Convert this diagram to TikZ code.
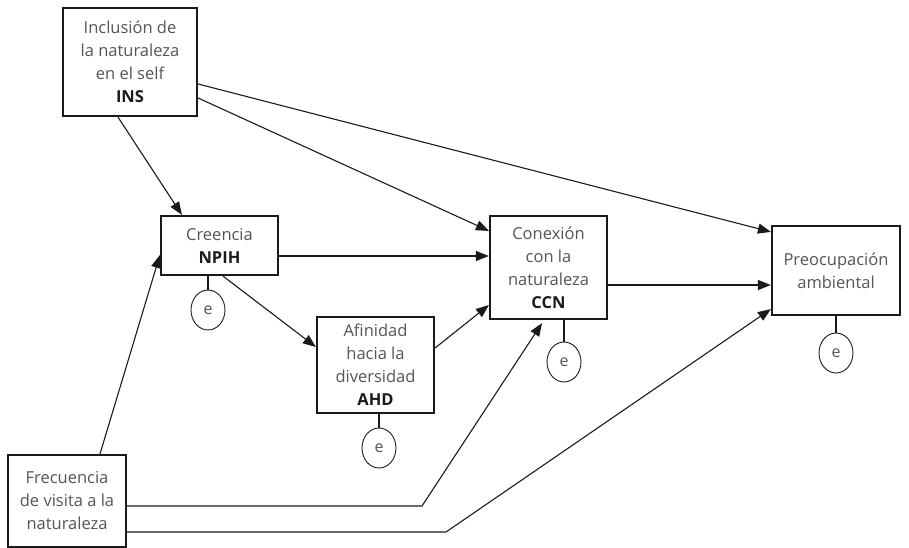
\documentclass[tikz,border=0pt]{standalone}
\usepackage{fontspec}
\setmainfont{Open Sans}
\usetikzlibrary{arrows.meta,calc,shapes.geometric}
\definecolor{txt}{HTML}{555555}
\definecolor{ln}{HTML}{1A1A1A}
\begin{document}
\begin{tikzpicture}[x=1pt,y=-1pt,
  box/.style={draw=ln,line width=2.2pt,align=center,text=txt,inner sep=0pt,
    font=\fontsize{16.5}{23}\selectfont},
  err/.style={draw=ln,line width=0.9pt,ellipse,minimum width=34pt,minimum height=40pt,
    inner sep=0pt,text=txt,font=\fontsize{16}{20}\selectfont},
  arr/.style={draw=ln,line width=1.1pt,-{Triangle[length=13pt,width=10pt]}},
  con/.style={draw=ln,line width=1.1pt}]
\useasboundingbox (0,0) rectangle (909,548);
\newcommand{\bl}[1]{{\bfseries\color{ln}#1}}
\node[box,minimum width=134pt,minimum height=108pt] (ins) at (130,62)
  {Inclusión de\\la naturaleza\\en el self\\\bl{INS}};
\node[box,minimum width=117pt,minimum height=59pt] (npih) at (219.5,245.5)
  {Creencia\\\bl{NPIH}};
\node[box,minimum width=117pt,minimum height=96pt] (ahd) at (375.5,365)
  {Afinidad\\hacia la\\diversidad\\\bl{AHD}};
\node[box,minimum width=117pt,minimum height=103pt] (ccn) at (548.5,267.5)
  {Conexión\\con la\\naturaleza\\\bl{CCN}};
\node[box,minimum width=128pt,minimum height=89pt] (pa) at (836,270.5)
  {Preocupación\\ambiental};
\node[box,minimum width=118pt,minimum height=92pt] (fvn) at (67,501)
  {Frecuencia\\de visita a la\\naturaleza};
\node[err] (e1) at (208,310) {e};
\node[err] (e2) at (379,448) {e};
\node[err] (e3) at (564,362) {e};
\node[err] (e4) at (836,353) {e};
\draw[con] (e1) -- (e1 |- npih.south);
\draw[con] (e2) -- (e2 |- ahd.south);
\draw[con] (e3) -- (e3 |- ccn.south);
\draw[con] (e4) -- (e4 |- pa.south);
\coordinate (k1) at (422,506);
\coordinate (k2) at (446,532);
\coordinate (c1) at ($(ccn.east)+(0,17.5)$);
\coordinate (n1) at ($(npih.east)+(0,10.5)$);
\draw[arr] ($(ins.south)+(-12,0)$) -- ($(npih.north west)+(22,0)$);
\draw[arr] ($(ins.east)+(0,36)$) -- ($(ccn.north west)+(0,16)$);
\draw[arr] ($(ins.east)+(0,22)$) -- ($(pa.north west)+(0,7)$);
\draw[arr] (n1) -- (n1 -| ccn.west);
\draw[arr] ($(npih.south)+(3.5,0)$) -- ($(ahd.west)+(0,-18)$);
\draw[arr] ($(ahd.east)+(0,-17)$) -- ($(ccn.west)+(0,37.5)$);
\draw[arr] (c1) -- (c1 -| pa.west);
\draw[arr] ($(fvn.north)+(33,0)$) -- ($(npih.west)+(0,9.5)$);
\draw[arr] ($(fvn.east)+(0,5)$) -- (k1) -- ($(ccn.south)+(-6.5,3)$);
\draw[arr] ($(fvn.east)+(0,31)$) -- (k2) -- ($(pa.south west)+(0,-7)$);
\end{tikzpicture}
\end{document}
